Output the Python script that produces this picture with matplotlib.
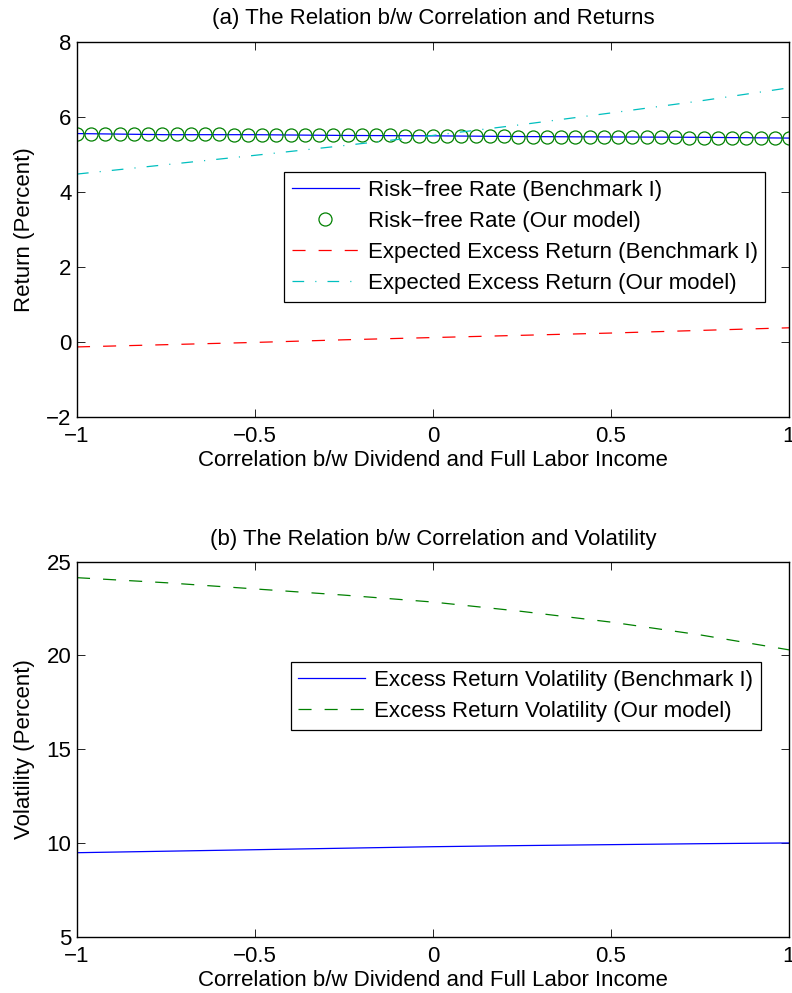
import numpy as np
import matplotlib
matplotlib.use("Agg")
import matplotlib.pyplot as plt

plt.rcParams['font.family'] = ['Liberation Sans', 'DejaVu Sans']
plt.rcParams['lines.scale_dashes'] = False

# correlation grid
corr = [-1.0, -0.75, -0.5, -0.25, 0.0, 0.25, 0.5, 0.75, 1.0]
corr_dense = np.linspace(-1, 1, 51)

# panel (a) returns, percent
rf_bench = [5.55, 5.52, 5.52, 5.50, 5.49, 5.47, 5.46, 5.45, 5.43]
rf_model = ([5.55] * 3 + [5.54] * 4 + [5.53] * 4 + [5.52] * 4 + [5.51] * 4
            + [5.50] * 4 + [5.49] * 4 + [5.48] * 4 + [5.47] * 4 + [5.46] * 4
            + [5.45] * 4 + [5.44] * 4 + [5.43] * 4)
ex_bench = [-0.14, -0.08, -0.02, 0.05, 0.11, 0.17, 0.23, 0.30, 0.37]
ex_model = [4.47, 4.72, 4.97, 5.23, 5.50, 5.79, 6.10, 6.42, 6.77]

# panel (b) volatility, percent
vol_bench = [9.48, 9.56, 9.64, 9.72, 9.80, 9.86, 9.91, 9.96, 10.00]
vol_model = [24.15, 23.88, 23.55, 23.22, 22.85, 22.35, 21.78, 21.10, 20.30]

fs = 16
fig = plt.figure(figsize=(7.92, 9.93), dpi=100)
ax1 = fig.add_axes([0.0972, 0.5804, 0.899, 0.3776])
ax2 = fig.add_axes([0.0972, 0.0567, 0.899, 0.3776])

ax1.plot(corr, rf_bench, color='blue', lw=0.9, label='Risk\u2212free Rate (Benchmark I)')
ax1.plot(corr_dense, rf_model, ls='none', marker='o', ms=9.4, mfc='none',
         mec=(0, 0.5, 0), mew=0.9, label='Risk\u2212free Rate (Our model)')
ax1.plot(corr, ex_bench, color='red', lw=0.9, ls=(0, (9.4, 9.4)),
         label='Expected Excess Return (Benchmark I)')
ax1.plot(corr, ex_model, color=(0, 0.75, 0.75), lw=0.9, ls=(0, (8.4, 8, 0.8, 8)),
         label='Expected Excess Return (Our model)')
ax1.set_ylim(-2, 8)
ax1.set_yticks([-2, 0, 2, 4, 6, 8])
ax1.set_ylabel('Return (Percent)', fontsize=fs, labelpad=8)
ax1.set_title('(a) The Relation b/w Correlation and Returns', fontsize=fs, pad=13)

ax2.plot(corr, vol_bench, color='blue', lw=0.9, label='Excess Return Volatility (Benchmark I)')
ax2.plot(corr, vol_model, color=(0, 0.5, 0), lw=0.9, ls=(0, (9.4, 9.4)),
         label='Excess Return Volatility (Our model)')
ax2.set_ylim(5, 25)
ax2.set_yticks([5, 10, 15, 20, 25])
ax2.set_ylabel('Volatility (Percent)', fontsize=fs, labelpad=8)
ax2.set_title('(b) The Relation b/w Correlation and Volatility', fontsize=fs, pad=12)

for ax in (ax1, ax2):
    ax.set_xlim(-1, 1)
    ax.set_xticks([-1, -0.5, 0, 0.5, 1])
    ax.set_xticklabels(['\u22121', '\u22120.5', '0', '0.5', '1'])
    ax.set_xlabel('Correlation b/w Dividend and Full Labor Income', fontsize=fs, labelpad=2)
    ax.tick_params(direction='in', top=True, right=True, length=6, width=0.6,
                   labelsize=fs)
    ax.tick_params(axis='x', pad=7)
    ax.tick_params(axis='y', pad=4)
    for s in ax.spines.values():
        s.set_linewidth(1.0)

leg1 = ax1.legend(loc='upper left', bbox_to_anchor=(0.359, 0.8268),
                  bbox_transform=fig.transFigure, fontsize=fs, fancybox=False,
                  edgecolor='black', framealpha=1, handlelength=3.0,
                  borderaxespad=0, borderpad=0.35, labelspacing=0.45,
                  handletextpad=0.4)
leg1.get_frame().set_linewidth(0.9)
leg2 = ax2.legend(loc='upper left', bbox_to_anchor=(0.367, 0.3333),
                  bbox_transform=fig.transFigure, fontsize=fs, fancybox=False,
                  edgecolor='black', framealpha=1, handlelength=3.0,
                  borderaxespad=0, borderpad=0.35, labelspacing=0.45,
                  handletextpad=0.4)
leg2.get_frame().set_linewidth(0.9)

fig.savefig('out.png', dpi=100)
